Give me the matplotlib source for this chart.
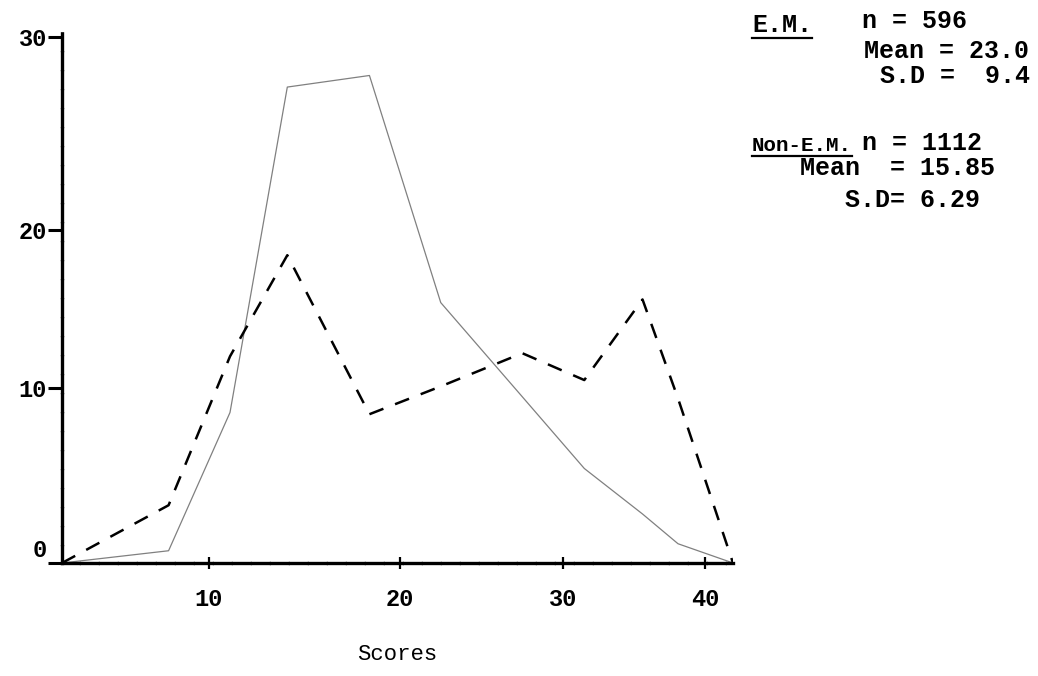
import numpy as np
import matplotlib
matplotlib.use("Agg")
from matplotlib import pyplot as plt
from matplotlib.lines import Line2D
from matplotlib.transforms import ScaledTranslation

# score class points (x) and frequencies (y)
scores = [2, 7.8, 11.1, 14.1, 18.4, 22.5, 27.5, 31.5, 35.6, 38.1, 42]
em_freq = [0, 3.3, 12.0, 18.4, 8.5, 10.1, 12.2, 10.5, 15.6, 9.4, 0]
non_em_freq = [0, 0.7, 8.6, 27.4, 28.0, 15.4, 9.5, 5.4, 2.8, 1.1, 0]

x_ticks = [10, 20, 30, 40]
y_ticks = [0, 10, 20, 30]

em_name = "E.M."
em_stats = ["n = 596", "Mean = 23.0", "S.D =  9.4"]
non_em_name = "Non-E.M."
non_em_stats = ["n = 1112", "Mean  = 15.85", "S.D= 6.29"]

# the axes were ruled by hand, so tick spacing on the sheet is uneven
x_knots = [0, 2, 10, 20, 30, 40, 42, 46]
x_pix = [24, 62, 209, 400, 563, 705, 733, 790]
y_knots = [0, 10, 20, 30, 32]
y_pix = [0, 175, 333, 526, 565]


def fwd_x(v):
    return np.interp(v, x_knots, x_pix)


def inv_x(p):
    return np.interp(p, x_pix, x_knots)


def fwd_y(v):
    return np.interp(v, y_knots, y_pix)


def inv_y(p):
    return np.interp(p, y_pix, y_knots)


plt.rcParams['font.family'] = ['Liberation Mono', 'DejaVu Sans Mono']
plt.rcParams['font.weight'] = 'bold'

W, H = 1038, 676
fig = plt.figure(figsize=(W / 100, H / 100), dpi=100)
ax = fig.add_axes([62 / W, 1 - 563 / H, (733 - 62) / W, (563 - 32) / H])

ax.set_xscale('function', functions=(fwd_x, inv_x))
ax.set_yscale('function', functions=(fwd_y, inv_y))

ax.plot(scores, non_em_freq, color='0.5', lw=0.9, solid_capstyle='round')
ax.plot(scores, em_freq, color='black', lw=1.8, dashes=(6, 5))

ax.set_xlim(2, 42)
ax.set_ylim(0, 30.25)

for side in ['top', 'right']:
    ax.spines[side].set_visible(False)
for side in ['left', 'bottom']:
    ax.spines[side].set_linewidth(2.4)
    ax.spines[side].set_linestyle((0, (5, 0.7)))

ax.set_xticks(x_ticks)
ax.set_xticklabels([str(t) for t in x_ticks])
ax.set_yticks(y_ticks)
ax.set_yticklabels([str(t) for t in y_ticks])
ax.tick_params(axis='x', direction='inout', length=8, width=1.6, pad=14, labelsize=17)
ax.tick_params(axis='y', direction='out', length=10, width=2.2, pad=1, labelsize=17)
ax.minorticks_off()

# the zero was typed a little above the baseline
zero_lbl = ax.yaxis.get_major_ticks()[0].label1
zero_lbl.set_transform(zero_lbl.get_transform() + ScaledTranslation(0, 15 / 100, fig.dpi_scale_trans))

ax.set_xlabel("Scores", fontsize=16, labelpad=24)

# statistics block, typed at the top right
def ftext(px, py, s, size=18):
    return fig.text(px / W, 1 - py / H, s, fontsize=size, ha='left', va='baseline')


em_label = ftext(752, 32, em_name)
ftext(862, 28, em_stats[0])
ftext(864, 58, em_stats[1])
ftext(880, 83, em_stats[2])

non_em_label = ftext(752, 151, non_em_name, size=15)
ftext(862, 150, non_em_stats[0])
ftext(800, 175, non_em_stats[1])
ftext(845, 207, non_em_stats[2])

renderer = fig.canvas.get_renderer()
for t in [em_label, non_em_label]:
    bb = t.get_window_extent(renderer)
    yline = bb.y0 - 1
    fig.add_artist(Line2D([bb.x0 / W, bb.x1 / W], [yline / H, yline / H],
                          color='black', lw=1.6))

fig.savefig("out.png", dpi=100)
